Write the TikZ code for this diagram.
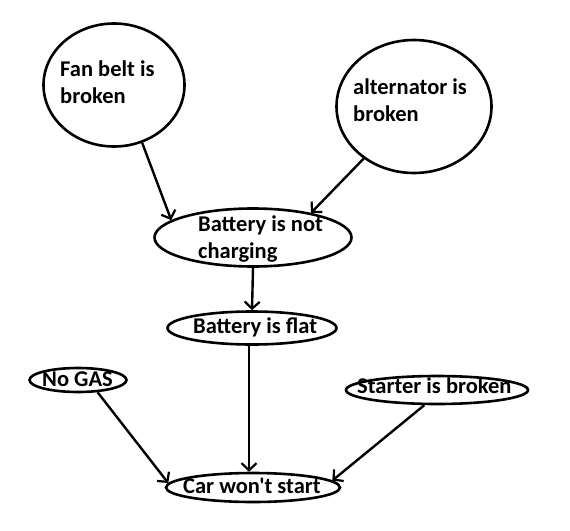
\documentclass[tikz,border=0pt]{standalone}
\usepackage{fontspec}
\setmainfont{Carlito}[Ligatures=TeXOff]
\usetikzlibrary{shapes.geometric,arrows.meta}
\begin{document}
\begin{tikzpicture}[x=1pt,y=-1pt,
  bubble/.style={draw=black,line width=2.6pt,shape=ellipse,inner sep=0pt},
  lbl/.style={inner sep=0pt,anchor=base west,align=left,font=\fontsize{22.5}{27}\selectfont\bfseries},
  link/.style={line width=2.4pt,-{Straight Barb[length=7pt,width=15pt,line width=2.2pt]}}]
\useasboundingbox[fill=white] (0,0) rectangle (570,530);
\node[bubble,minimum width=141pt,minimum height=123pt] (fan) at (114,85) {};
\node[bubble,minimum width=155pt,minimum height=133pt] (alt) at (414,106.5) {};
\node[bubble,minimum width=197pt,minimum height=58pt] (bat) at (253,237.5) {};
\node[bubble,minimum width=169pt,minimum height=33pt] (flat) at (252,328) {};
\node[bubble,minimum width=97pt,minimum height=24pt] (gas) at (78,380) {};
\node[bubble,minimum width=182pt,minimum height=28pt] (starter) at (437,390) {};
\node[bubble,minimum width=174pt,minimum height=29pt] (car) at (253,487.5) {};
\node[lbl] (fant) at (60,103.5) {Fan belt is\\broken};
\node[lbl] (altt) at (353,121.5) {alternator is\\broken};
\node[lbl] (batt) at (198,258.5) {Battery is not\\charging};
\node[lbl] (flatt) at (193,333) {Battery is flat};
\node[lbl] (gast) at (42,386) {No GAS};
\node[lbl] (startert) at (357,393) {Starter is broken};
\node[lbl] (cart) at (183,493) {Car won't start};
\draw[link] (fan.-64) -- (bat.168);
\draw[link] (alt.226) -- (bat.23);
\draw[link] (bat.south) -- (flat.north);
\draw[link] ([xshift=-3pt]flat.south) -- ([xshift=-4pt]car.north);
\draw[link] (gas.-32) -- (car.177);
\draw[link] (starter.-130) -- (car.5);
\end{tikzpicture}
\end{document}
